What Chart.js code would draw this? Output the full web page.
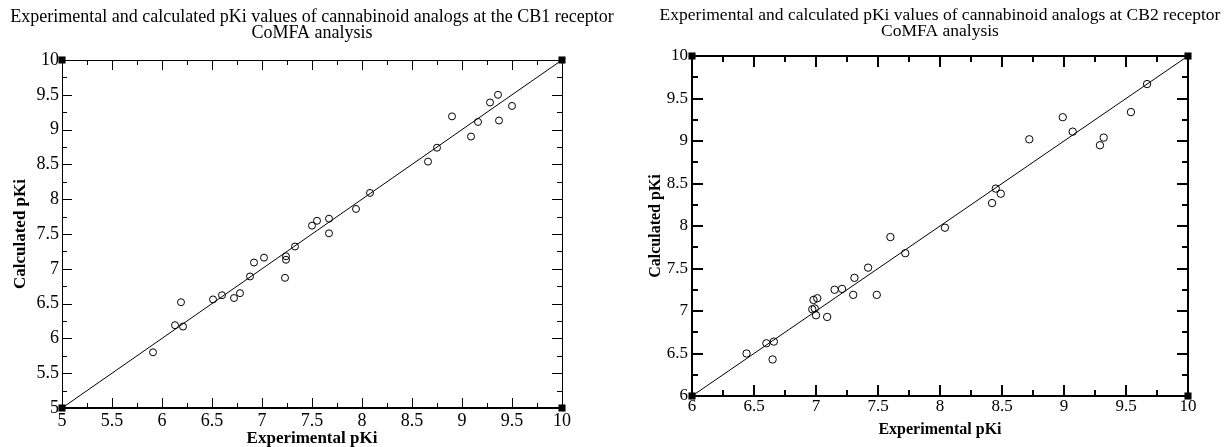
<!DOCTYPE html>
<html>
<head>
<meta charset="utf-8">
<script src="https://cdn.jsdelivr.net/npm/chart.js@4.4.1/dist/chart.umd.min.js"></script>
<style>
  html, body { margin: 0; padding: 0; background: #fff; }
  #wrap { position: relative; width: 1226px; height: 447px; overflow: hidden; }
  canvas { position: absolute; top: 0; }
</style>
</head>
<body>
<div id="wrap">
  <canvas id="cb1" width="624" height="447" style="left:0"></canvas>
  <canvas id="cb2" width="600" height="447" style="left:640px"></canvas>
</div>
<script>
// CB1 receptor - experimental vs calculated pKi
const cb1Exp  = [5.91, 6.13, 6.19, 6.21, 6.51, 6.60, 6.72, 6.78, 6.88, 6.92, 7.02, 7.23, 7.24, 7.24, 7.33,
                 7.50, 7.55, 7.67, 7.67, 7.94, 8.08, 8.66, 8.75, 8.90, 9.09, 9.16, 9.28, 9.36, 9.37, 9.50];
const cb1Calc = [5.80, 6.19, 6.52, 6.17, 6.56, 6.62, 6.58, 6.65, 6.89, 7.09, 7.16, 6.87, 7.18, 7.13, 7.32,
                 7.62, 7.69, 7.72, 7.51, 7.86, 8.09, 8.54, 8.74, 9.19, 8.90, 9.11, 9.39, 9.50, 9.13, 9.34];

// CB2 receptor
const cb2Exp  = [6.44, 6.60, 6.66, 6.65, 6.97, 6.98, 6.99, 7.01, 7.00, 7.09, 7.15, 7.21, 7.30, 7.31, 7.42,
                 7.49, 7.60, 7.72, 8.04, 8.42, 8.45, 8.49, 8.72, 8.99, 9.07, 9.29, 9.32, 9.54, 9.67];
const cb2Calc = [6.50, 6.62, 6.64, 6.43, 7.02, 7.13, 7.03, 7.15, 6.95, 6.93, 7.25, 7.26, 7.19, 7.39, 7.51,
                 7.19, 7.87, 7.68, 7.98, 8.27, 8.44, 8.38, 9.02, 9.28, 9.11, 8.95, 9.04, 9.34, 9.67];

// tick labels (same on both axes)
const cb1Ticks = [5, 5.5, 6, 6.5, 7, 7.5, 8, 8.5, 9, 9.5, 10];
const cb2Ticks = [6, 6.5, 7, 7.5, 8, 8.5, 9, 9.5, 10];

// y = x reference line ends
const cb1Diag = [5, 10];
const cb2Diag = [6, 10];

const cb1Title = ['Experimental and calculated pKi values of cannabinoid analogs at the CB1 receptor', 'CoMFA analysis'];
const cb2Title = ['Experimental and calculated pKi values of cannabinoid analogs at CB2 receptor', 'CoMFA analysis'];

const serif = 'Liberation Serif';

// inward tick marks on all four sides, major + minor
const innerTicks = {
  id: 'innerTicks',
  afterDatasetsDraw(chart, args, opts) {
    const { ctx, chartArea: a } = chart;
    const xs = chart.scales.x, ys = chart.scales.y;
    const vals = [];
    opts.values.forEach((v, i) => {
      vals.push([v, opts.major]);
      if (i < opts.values.length - 1) vals.push([(v + opts.values[i + 1]) / 2, opts.minor]);
    });
    const off = opts.width % 2 ? 0.5 : 0;
    ctx.save();
    ctx.strokeStyle = '#000';
    ctx.lineWidth = opts.width;
    ctx.beginPath();
    vals.forEach(([v, len]) => {
      const px = Math.round(xs.getPixelForValue(v)) + off;
      ctx.moveTo(px, a.bottom); ctx.lineTo(px, a.bottom - len);
      ctx.moveTo(px, a.top); ctx.lineTo(px, a.top + len);
      const py = Math.round(ys.getPixelForValue(v)) + off;
      ctx.moveTo(a.left, py); ctx.lineTo(a.left + len, py);
      ctx.moveTo(a.right, py); ctx.lineTo(a.right - len, py);
    });
    ctx.stroke();
    ctx.restore();
  }
};

function makeChart(id, s) {
  const pts = s.exp.map((v, i) => ({ x: v, y: s.calc[i] }));
  const lo = s.ticks[0], hi = s.ticks[s.ticks.length - 1];
  const corners = [{ x: lo, y: hi }, { x: hi, y: hi }, { x: lo, y: lo }, { x: hi, y: lo }];
  const tickFont = { family: serif, size: s.tickSize };
  const titleFont = { family: serif, size: s.axisSize, weight: 'bold' };
  const setTicks = sc => { sc.ticks = s.ticks.map(v => ({ value: v })); };

  return new Chart(document.getElementById(id), {
    type: 'scatter',
    data: {
      datasets: [
        {
          data: s.diag.map(v => ({ x: v, y: v })),
          showLine: true, borderColor: '#000', borderWidth: 1, pointRadius: 0
        },
        {
          data: pts,
          pointStyle: 'circle', pointRadius: s.r, pointBorderWidth: 1,
          pointBorderColor: '#000', pointBackgroundColor: 'rgba(0,0,0,0)'
        },
        {
          data: corners, clip: false,
          pointStyle: 'rect', pointRadius: 5, pointBorderWidth: 0,
          pointBackgroundColor: '#000', pointBorderColor: '#000'
        }
      ]
    },
    options: {
      responsive: false,
      animation: false,
      events: [],
      layout: { padding: 0 },
      plugins: {
        legend: { display: false },
        tooltip: { enabled: false },
        title: {
          display: true, text: s.title, color: '#000',
          font: { family: serif, size: s.headSize, weight: 'normal', lineHeight: '16px' },
          padding: { top: s.titleTop, bottom: s.titleBottom }
        },
        innerTicks: { values: s.ticks, major: s.major, minor: s.minor, width: s.tickW }
      },
      scales: {
        x: {
          type: 'linear', position: 'bottom', min: lo, max: hi,
          afterBuildTicks: setTicks,
          afterFit: sc => { sc.height = s.xH; },
          grid: { display: false, drawTicks: false },
          border: { display: true, color: '#000', width: s.bw[2] },
          ticks: { color: '#000', font: tickFont, padding: s.xPad, maxRotation: 0, autoSkip: false,
                   callback: v => String(v) },
          title: { display: true, text: 'Experimental pKi', color: '#000', font: titleFont,
                   padding: { top: 0, bottom: s.xTitlePad } }
        },
        y: {
          type: 'linear', position: 'left', min: lo, max: hi,
          afterBuildTicks: setTicks,
          afterFit: sc => { sc.width = s.yW; },
          grid: { display: false, drawTicks: false },
          border: { display: true, color: '#000', width: s.bw[3] },
          ticks: { color: '#000', font: tickFont, padding: s.yPad, autoSkip: false,
                   callback: v => String(v) },
          title: { display: true, text: 'Calculated pKi', color: '#000', font: titleFont,
                   padding: { top: s.yTitlePad, bottom: 0 } }
        },
        x2: {
          type: 'linear', position: 'top', min: lo, max: hi,
          afterFit: sc => { sc.height = 0; },
          grid: { display: false, drawTicks: false },
          border: { display: true, color: '#000', width: s.bw[0] },
          ticks: { display: false }
        },
        y2: {
          type: 'linear', position: 'right', min: lo, max: hi,
          afterFit: sc => { sc.width = s.yW; },
          grid: { display: false, drawTicks: false },
          border: { display: true, color: '#000', width: s.bw[1] },
          ticks: { display: false }
        }
      }
    },
    plugins: [innerTicks]
  });
}

makeChart('cb1', {
  exp: cb1Exp, calc: cb1Calc, ticks: cb1Ticks, diag: cb1Diag, title: cb1Title,
  titleTop: 9, titleBottom: 19, xH: 39, xPad: 2, xTitlePad: -2, yW: 62, yPad: 3, yTitlePad: 10.5,
  headSize: 18, tickSize: 18, axisSize: 17,
  major: 10, minor: 5, tickW: 1, bw: [1, 1, 2, 1], r: 3.5
});

makeChart('cb2', {
  exp: cb2Exp, calc: cb2Calc, ticks: cb2Ticks, diag: cb2Diag, title: cb2Title,
  titleTop: 7, titleBottom: 17, xH: 51, xPad: 0, xTitlePad: 7.4, yW: 52, yPad: 4, yTitlePad: 6.4,
  headSize: 17.5, tickSize: 17, axisSize: 16,
  major: 11, minor: 6, tickW: 2, bw: [2, 2, 2, 2], r: 3.7
});
</script>
</body>
</html>
